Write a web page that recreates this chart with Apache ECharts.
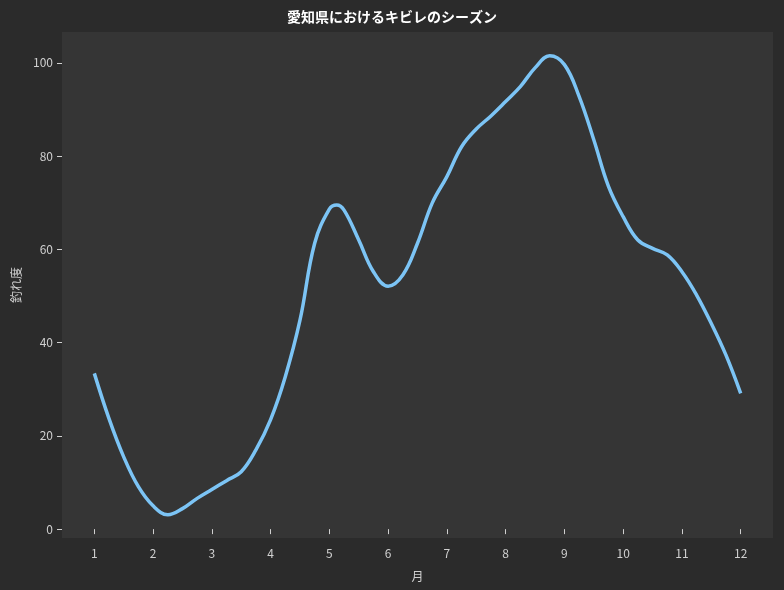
<!DOCTYPE html>
<html>
<head>
<meta charset="utf-8">
<script src="https://cdn.jsdelivr.net/npm/echarts@6/dist/echarts.min.js"></script>
<style>
  html, body { margin: 0; padding: 0; background: #2b2b2b; }
  #chart { width: 784px; height: 590px; }
</style>
</head>
<body>
<div id="chart"></div>
<script>
// month positions (about every quarter month) and catch level
const months = [1, 1.25, 1.5, 1.75, 2, 2.25, 2.5, 2.75, 3, 3.25, 3.5, 3.75, 4, 4.25, 4.5, 4.75,
  5, 5.125, 5.25, 5.5, 5.75, 6, 6.25, 6.5, 6.75, 7, 7.25, 7.5, 7.75, 8, 8.25, 8.5, 8.75,
  9, 9.25, 9.5, 9.75, 10, 10.25, 10.5, 10.75, 11, 11.25, 11.5, 11.75, 12]
const level = [33.4, 23.7, 15.5, 9.1, 5.0, 3.1, 4.4, 6.6, 8.5, 10.4, 12.3, 17.0, 23.5, 32.7, 44.8, 61.3,
  68.6, 69.5, 68.4, 62, 55.2, 52.1, 54.5, 61.3, 69.9, 75.6, 82, 85.8, 88.6, 91.7, 94.9, 98.9, 101.5,
  99.6, 92.8, 83.5, 73.5, 67, 62, 60.2, 58.8, 55.2, 50.2, 44.1, 37.3, 29.1]
const xTicks = [1, 2, 3, 4, 5, 6, 7, 8, 9, 10, 11, 12]
const yTicks = [0, 20, 40, 60, 80, 100]

const chart = echarts.init(document.getElementById('chart'))
const font = '"Noto Sans CJK JP", "Noto Sans", sans-serif'
const textColor = '#d0d0d0'

chart.setOption({
  backgroundColor: '#2b2b2b',
  animation: false,
  title: {
    text: '愛知県におけるキビレのシーズン',
    left: 'center',
    top: 5,
    textStyle: { color: '#ffffff', fontSize: 14, fontWeight: 'bold', fontFamily: font }
  },
  grid: {
    left: 62,
    right: 11,
    top: 32,
    bottom: 52,
    show: true,
    backgroundColor: '#353535',
    borderWidth: 0
  },
  xAxis: {
    type: 'value',
    min: 0.45,
    max: 12.55,
    name: '月',
    nameLocation: 'middle',
    nameGap: 32,
    nameTextStyle: { color: textColor, fontSize: 12, fontFamily: font },
    axisLine: { show: false },
    splitLine: { show: false },
    axisTick: { show: true, length: 5, lineStyle: { color: textColor }, customValues: xTicks },
    axisLabel: { color: textColor, fontSize: 12, fontFamily: font, margin: 9, customValues: xTicks }
  },
  yAxis: {
    type: 'value',
    min: -1.9,
    max: 106.6,
    name: '釣れ度',
    nameLocation: 'middle',
    nameGap: 40,
    nameTextStyle: { color: textColor, fontSize: 12, fontFamily: font },
    axisLine: { show: false },
    splitLine: { show: false },
    axisTick: { show: true, length: 5, lineStyle: { color: textColor }, customValues: yTicks },
    axisLabel: { color: textColor, fontSize: 12, fontFamily: font, margin: 9, customValues: yTicks }
  },
  series: [{
    type: 'line',
    data: months.map((m, i) => [m, level[i]]),
    smooth: 0.4,
    showSymbol: false,
    lineStyle: { color: '#7cc4f5', width: 3.5 }
  }]
})
</script>
</body>
</html>
